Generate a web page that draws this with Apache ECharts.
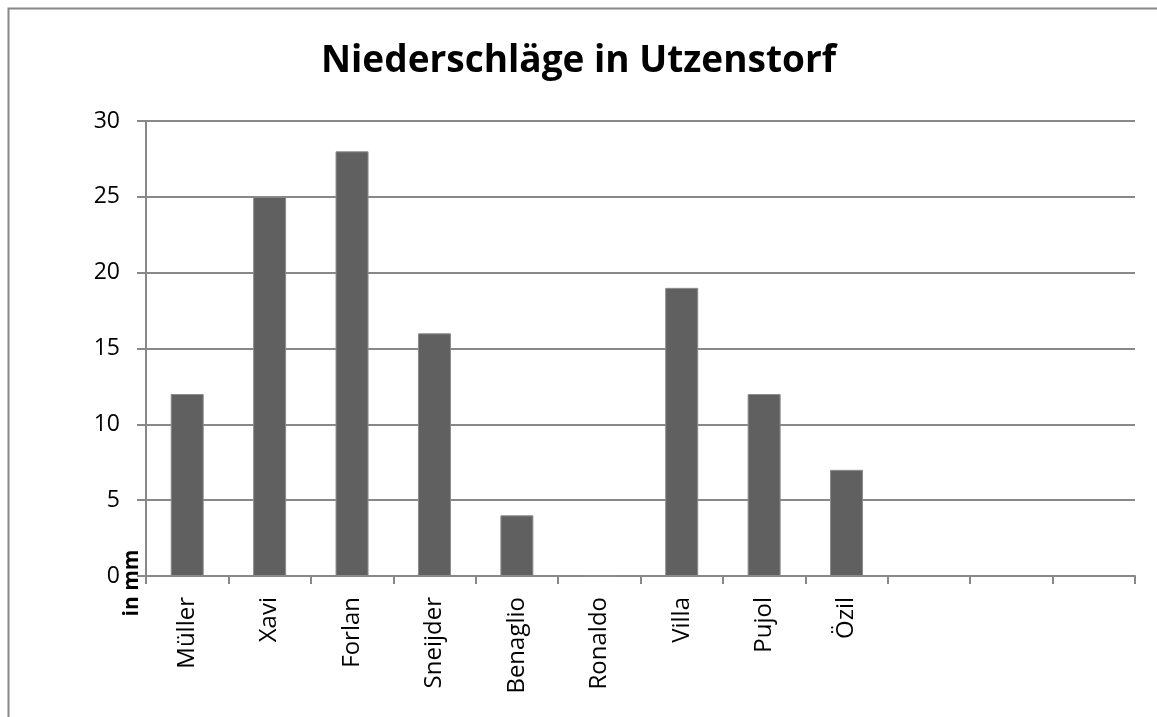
<!DOCTYPE html>
<html>
<head>
<meta charset="utf-8">
<script src="https://cdn.jsdelivr.net/npm/echarts@6/dist/echarts.min.js"></script>
<style>
  html, body { margin: 0; padding: 0; background: #fff; }
  #chart { width: 1157px; height: 717px; }
</style>
</head>
<body>
<div id="chart"></div>
<script>
// Daten
var categories = ['Müller', 'Xavi', 'Forlan', 'Sneijder', 'Benaglio', 'Ronaldo', 'Villa', 'Pujol', 'Özil', '', '', ''];
var values = [12, 25, 28, 16, 4, 0, 19, 12, 7, null, null, null];
var yTicks = [0, 5, 10, 15, 20, 25, 30];

var font = '"Open Sans", "DejaVu Sans", sans-serif';
var myChart = echarts.init(document.getElementById('chart'));

var option = {
    animation: false,
    title: {
        text: 'Niederschläge in Utzenstorf',
        left: 'center',
        top: 38,
        textStyle: { fontFamily: font, fontSize: 37, fontWeight: 'bold', color: '#000' }
    },
    grid: { left: 146, right: 22, top: 121, bottom: 141 },
    xAxis: {
        type: 'category',
        data: categories,
        axisLine: { lineStyle: { color: '#888', width: 2 } },
        axisTick: { show: true, length: 8, lineStyle: { color: '#888', width: 2 } },
        axisLabel: {
            rotate: 90,
            interval: 0,
            margin: 21,
            fontFamily: font,
            fontSize: 24,
            color: '#000'
        }
    },
    yAxis: {
        type: 'value',
        min: yTicks[0],
        max: yTicks[yTicks.length - 1],
        interval: 5,
        axisLine: { show: true, lineStyle: { color: '#888', width: 2 } },
        axisTick: { show: true, length: 9, lineStyle: { color: '#888', width: 2 } },
        splitLine: { lineStyle: { color: '#888', width: 2 } },
        axisLabel: { margin: 26, fontFamily: font, fontSize: 23, color: '#000' }
    },
    graphic: [
        {
            type: 'rect',
            shape: { x: 8.5, y: 8.5, width: 1170, height: 730 },
            style: { fill: 'none', stroke: '#888', lineWidth: 2 },
            silent: true
        },
        {
            type: 'text',
            x: 132,
            y: 583,
            rotation: Math.PI / 2,
            style: {
                text: 'in mm',
                fontFamily: font,
                fontSize: 21,
                fontWeight: 'bold',
                fill: '#000',
                align: 'center',
                verticalAlign: 'middle'
            },
            z: 10
        }
    ],
    series: [{
        type: 'bar',
        data: values,
        barWidth: 33,
        itemStyle: { color: '#606060', borderColor: '#8c8c8c', borderWidth: 1 }
    }]
};

myChart.setOption(option);
</script>
</body>
</html>
